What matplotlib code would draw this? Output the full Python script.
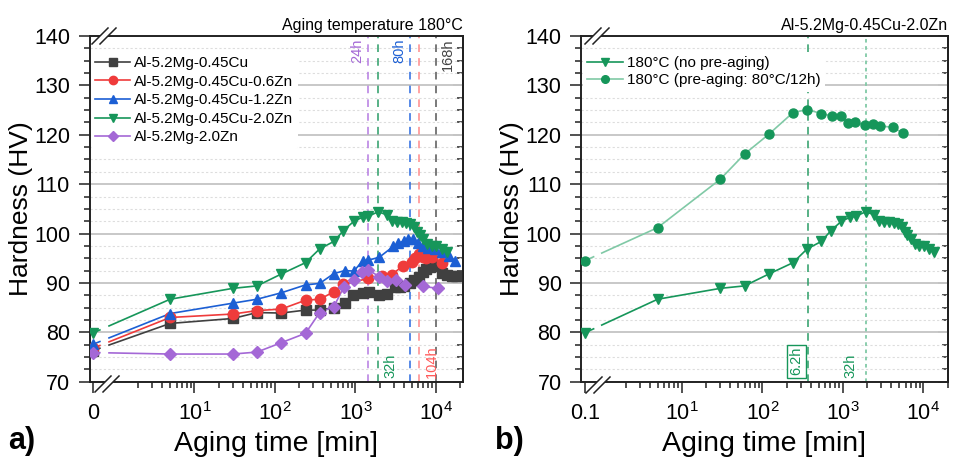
import numpy as np
import matplotlib
matplotlib.use('Agg')
import matplotlib.pyplot as plt
import matplotlib.transforms as mtrans
from matplotlib.ticker import FixedLocator, NullFormatter, MultipleLocator
from matplotlib.lines import Line2D
from matplotlib.patches import Polygon

plt.rcParams['font.family'] = ['Liberation Sans', 'DejaVu Sans']
plt.rcParams['mathtext.fontset'] = 'custom'
plt.rcParams['mathtext.rm'] = 'Liberation Sans'
plt.rcParams['mathtext.it'] = 'Liberation Sans:italic'
plt.rcParams['mathtext.bf'] = 'Liberation Sans:bold'

# ---------------- data (aging time in min, hardness in HV) ----------------
labels_a = ['Al-5.2Mg-0.45Cu', 'Al-5.2Mg-0.45Cu-0.6Zn', 'Al-5.2Mg-0.45Cu-1.2Zn',
            'Al-5.2Mg-0.45Cu-2.0Zn', 'Al-5.2Mg-2.0Zn']

k_t = [0, 5, 30, 60, 120, 240, 360, 540, 750, 945, 1240, 1470, 1980, 2490, 3100, 3580,
       4020, 4790, 5420, 6180, 6870, 7640, 8480, 9340, 10230, 11800, 13700, 15800, 17900]
k_hv = [76.3, 81.8, 82.8, 84.0, 83.9, 84.5, 84.5, 85.0, 86.0, 87.6, 88.0, 88.1, 87.6, 87.8,
        89.1, 89.2, 89.4, 89.9, 90.5, 91.3, 92.2, 92.9, 93.2, 93.4, 93.4, 92.0, 91.7, 91.5, 91.4]

r_t = [0, 5, 30, 60, 120, 240, 360, 540, 700, 1440, 2130, 2820, 3870, 5000, 5500, 6230,
       6960, 7640, 8880, 11800]
r_hv = [76.8, 83.0, 83.7, 84.4, 84.7, 86.5, 86.7, 88.2, 89.7, 90.9, 91.5, 91.7, 93.4, 94.3,
        95.0, 95.9, 95.3, 95.0, 95.2, 94.1]

b_t = [0, 5, 30, 60, 120, 240, 360, 540, 740, 960, 1230, 1440, 1980, 2960, 3430, 3960,
       4530, 5230, 6050, 6870, 8040, 9800, 11800, 14700, 17200]
b_hv = [77.6, 83.8, 85.9, 86.7, 88.0, 89.6, 89.9, 91.9, 92.5, 92.4, 94.5, 94.6, 95.2, 97.4,
        98.0, 98.5, 98.8, 98.8, 98.1, 97.5, 97.0, 96.8, 96.3, 95.5, 94.5]

g_t = [0, 5, 30, 60, 120, 240, 360, 540, 710, 960, 1230, 1440, 1920, 2450, 2820, 3250,
       3750, 4250, 4790, 5350, 5870, 6310, 6950, 7810, 8880, 10040, 11840, 13670]
g_hv = [79.9, 86.7, 88.9, 89.4, 91.8, 94.1, 96.9, 98.4, 100.6, 102.5, 103.3, 103.5, 104.4,
        103.8, 102.6, 102.4, 102.4, 102.2, 101.9, 101.3, 100.4, 99.7, 98.8, 97.8, 97.5,
        97.4, 96.8, 96.2]

p_t = [0, 5, 30, 60, 120, 240, 360, 540, 720, 970, 1220, 1450, 1980, 2470, 3150, 4190,
       6860, 10650]
p_hv = [75.9, 75.6, 75.6, 76.0, 77.9, 79.8, 84.0, 85.2, 89.2, 90.6, 92.2, 92.6, 91.3, 90.4,
        90.6, 89.6, 89.3, 88.9]

# pre-aged (80 C / 12 h) then 180 C
pa_t = [0, 5, 30, 60, 120, 240, 360, 540, 740, 940, 1170, 1410, 1880, 2350, 2890, 4160, 5630]
pa_hv = [94.5, 101.2, 111.0, 116.1, 120.1, 124.5, 125.1, 124.3, 123.8, 123.8, 122.3, 122.5,
         122.0, 122.1, 121.8, 121.5, 120.3]
labels_b = ['180°C (no pre-aging)', '180°C (pre-aging: 80°C/12h)']

# marker lines (hours) and their labels
vlines_a_h = [24, 32, 80, 104, 168]
vlabels_a = ['24h', '32h', '80h', '104h', '168h']
vlines_b_h = [6.2, 32]
vlabels_b = ['6.2h', '32h']

xtick_vals = [10, 100, 1000, 10000]
xtick_labels = ['$10^{1}$', '$10^{2}$', '$10^{3}$', '$10^{4}$']

# ---------------- style ----------------
C_K = '#404040'; C_R = '#ef3b3b'; C_B = '#1c5fd4'; C_G = '#16965a'; C_P = '#a468d6'
C_GL = '#80c9a6'
W, H = 956, 458
fig = plt.figure(figsize=(W / 100, H / 100), dpi=100)


def rect(x0, y0, x1, y1):
    return [x0 / W, 1 - y1 / H, (x1 - x0) / W, (y1 - y0) / H]


axA = fig.add_axes(rect(89.5, 36, 463, 381.7))
axB = fig.add_axes(rect(581, 36, 948, 381.7))

ZERO_A, ZERO_B = 0.555, 0.625
XLIM_A, XLIM_B = (0.498, 21700), (0.558, 20200)
GAP_A, GAP_B = (0.67, 0.87), (0.80, 1.01)


def plot_series(ax, t, hv, zero, gap, color, marker, ms, lcolor=None, label=None, lms=None):
    lcolor = lcolor or color
    x = np.array([zero if v == 0 else v for v in t], float)
    y = np.array(hv, float)
    ax.plot(x[1:], y[1:], color=lcolor, lw=1.2, zorder=3)
    u0, u1 = np.log10(x[0]), np.log10(x[1])
    for a, b in [(u0, np.log10(gap[0])), (np.log10(gap[1]), u1)]:
        ya = y[0] + (y[1] - y[0]) * (a - u0) / (u1 - u0)
        yb = y[0] + (y[1] - y[0]) * (b - u0) / (u1 - u0)
        ax.plot([10 ** a, 10 ** b], [ya, yb], color=lcolor, lw=1.2, zorder=3)
    ax.plot(x, y, ls='none', marker=marker, ms=ms, color=color, mec=color, zorder=4)
    ax.plot([], [], color=lcolor, lw=1.2, marker=marker, ms=lms or ms * 0.8, mfc=color,
            mec=color, label=label)


def style(ax, xlim, zero, zero_label):
    ax.set_xscale('log')
    ax.set_xlim(*xlim)
    ax.set_ylim(70, 140)
    ax.set_xticks([zero] + xtick_vals)
    ax.set_xticklabels([zero_label] + xtick_labels)
    minors = [m * 10 ** e for e in range(0, 5) for m in range(2, 10)
              if xlim[0] < m * 10 ** e < xlim[1]]
    ax.xaxis.set_minor_locator(FixedLocator(minors))
    ax.xaxis.set_minor_formatter(NullFormatter())
    ax.yaxis.set_major_locator(MultipleLocator(10))
    ax.yaxis.set_minor_locator(MultipleLocator(2.5))
    ax.tick_params(which='both', direction='out', top=False, right=False, width=1.1,
                   labelsize=15.5, color='#222222')
    ax.tick_params(which='major', length=8, pad=6)
    ax.tick_params(which='minor', length=4.5)
    ax.tick_params(axis='x', which='major', pad=7)
    sec = ax.secondary_yaxis('right')
    sec.yaxis.set_major_locator(MultipleLocator(10))
    sec.yaxis.set_minor_locator(MultipleLocator(2.5))
    sec.tick_params(which='both', direction='in', labelright=False, width=1.1, color='#222222')
    sec.tick_params(which='major', length=7)
    sec.tick_params(which='minor', length=4)
    sec.spines['right'].set_linewidth(1.4)
    ax.grid(which='major', axis='y', color='#c8c8c8', lw=1.4)
    ax.grid(which='minor', axis='y', color='#dddddd', lw=0.8, ls=(0, (2, 2)))
    ax.grid(which='both', axis='x', visible=False)
    ax.set_axisbelow(True)
    for s in ax.spines.values():
        s.set_linewidth(1.4)
        s.set_color('#222222')
    ax.set_ylabel('Hardness (HV)', fontsize=19, labelpad=1)
    ax.set_xlabel('Aging time [min]', fontsize=20.5, labelpad=4)


def brk(xc, yc):
    # axis-break sign in pixel coordinates (top-left origin)
    d = 4.0
    poly = [(xc - d - 6, yc + 7), (xc + d - 6, yc + 7), (xc + d + 6, yc - 7), (xc - d + 6, yc - 7)]
    fig.add_artist(Polygon([(px / W, 1 - py / H) for px, py in poly], closed=True,
                           facecolor='white', edgecolor='none', zorder=10))
    for s in (-d, d):
        fig.add_artist(Line2D([(xc + s - 8) / W, (xc + s + 8) / W],
                              [1 - (yc + 8) / H, 1 - (yc - 8) / H],
                              color='#222222', lw=1.1, zorder=11))


# ---------------- panel a ----------------
style(axA, XLIM_A, ZERO_A, '0')
plot_series(axA, k_t, k_hv, ZERO_A, GAP_A, C_K, 's', 6.5, label=labels_a[0])
plot_series(axA, r_t, r_hv, ZERO_A, GAP_A, C_R, 'o', 7.5, label=labels_a[1])
plot_series(axA, b_t, b_hv, ZERO_A, GAP_A, C_B, '^', 7.5, label=labels_a[2])
plot_series(axA, g_t, g_hv, ZERO_A, GAP_A, C_G, 'v', 7.5, label=labels_a[3])
plot_series(axA, p_t, p_hv, ZERO_A, GAP_A, C_P, 'D', 6.0, label=labels_a[4])

vcols_a = ['#b57be2', '#2a9d66', '#2a6ae0', '#ff8a8a', '#555555']
tcols_a = ['#a468d6', '#16965a', '#1c5fd4', '#ff5a5a', '#444444']
vpos_a = [('top', 'left'), ('bottom', 'right'), ('top', 'left'), ('bottom', 'right'), ('top', 'right')]
for h, lab, vc, tc, (vp, side) in zip(vlines_a_h, vlabels_a, vcols_a, tcols_a, vpos_a):
    axA.axvline(h * 60, color=vc, lw=1.1, ls=(0, (5, 4)), zorder=2)
    dx = -4 if side == 'left' else 5
    tr = mtrans.offset_copy(axA.get_xaxis_transform(), fig=fig, x=dx, y=0, units='dots')
    if vp == 'top':
        axA.text(h * 60, 0.992, lab, rotation=90, ha='right' if side == 'left' else 'left',
                 va='top', color=tc, fontsize=10.5, transform=tr)
    else:
        axA.text(h * 60, 0.012, lab, rotation=90, ha='right' if side == 'left' else 'left',
                 va='bottom', color=tc, fontsize=10.5, transform=tr)

legA = axA.legend(loc='upper left', bbox_to_anchor=(0.003, 0.955), fontsize=11,
                  frameon=True, facecolor='white', edgecolor='none', framealpha=1,
                  handlelength=2.3, handletextpad=0.25, labelspacing=0.3, borderpad=0.3,
                  borderaxespad=0)
legA.set_zorder(6)
axA.set_title('Aging temperature 180°C', loc='right', fontsize=11.5, pad=4)

# ---------------- panel b ----------------
style(axB, XLIM_B, ZERO_B, '0.1')
plot_series(axB, g_t, g_hv, ZERO_B, GAP_B, C_G, 'v', 7.0, label=labels_b[0], lms=6)
plot_series(axB, pa_t, pa_hv, ZERO_B, GAP_B, C_G, 'o', 6.5, lcolor=C_GL, label=labels_b[1], lms=5.5)
axB.axvline(vlines_b_h[0] * 60, color='#2a9d66', lw=1.1, ls=(0, (5, 4)), zorder=2)
axB.axvline(vlines_b_h[1] * 60, color=C_GL, lw=1.3, ls=(0, (2, 2)), zorder=2)
trb = mtrans.offset_copy(axB.get_xaxis_transform(), fig=fig, x=-5, y=0, units='dots')
axB.text(vlines_b_h[0] * 60, 0.018, vlabels_b[0], rotation=90, ha='right', va='bottom',
         color=C_G, fontsize=10.5, transform=trb,
         bbox=dict(boxstyle='square,pad=0.15', facecolor='white', edgecolor=C_G, lw=1.0))
trb2 = mtrans.offset_copy(axB.get_xaxis_transform(), fig=fig, x=-8, y=0, units='dots')
axB.text(vlines_b_h[1] * 60, 0.012, vlabels_b[1], rotation=90, ha='right', va='bottom',
         color=C_G, fontsize=10.5, transform=trb2)
legB = axB.legend(loc='upper left', bbox_to_anchor=(0.005, 0.955), fontsize=11,
                  frameon=True, facecolor='white', edgecolor='none', framealpha=1,
                  handlelength=2.3, handletextpad=0.3, labelspacing=0.2, borderpad=0.3,
                  borderaxespad=0)
legB.set_zorder(6)
axB.set_title('Al-5.2Mg-0.45Cu-2.0Zn', loc='right', fontsize=11.5, pad=4)

# axis breaks
brk(107, 384)
brk(104, 36)
brk(598, 385)
brk(597, 36)

fig.text(8 / W, 1 - 449 / H, 'a)', fontsize=22, fontweight='bold', ha='left', va='baseline')
fig.text(495 / W, 1 - 449 / H, 'b)', fontsize=22, fontweight='bold', ha='left', va='baseline')

fig.savefig('out.png', dpi=100)
